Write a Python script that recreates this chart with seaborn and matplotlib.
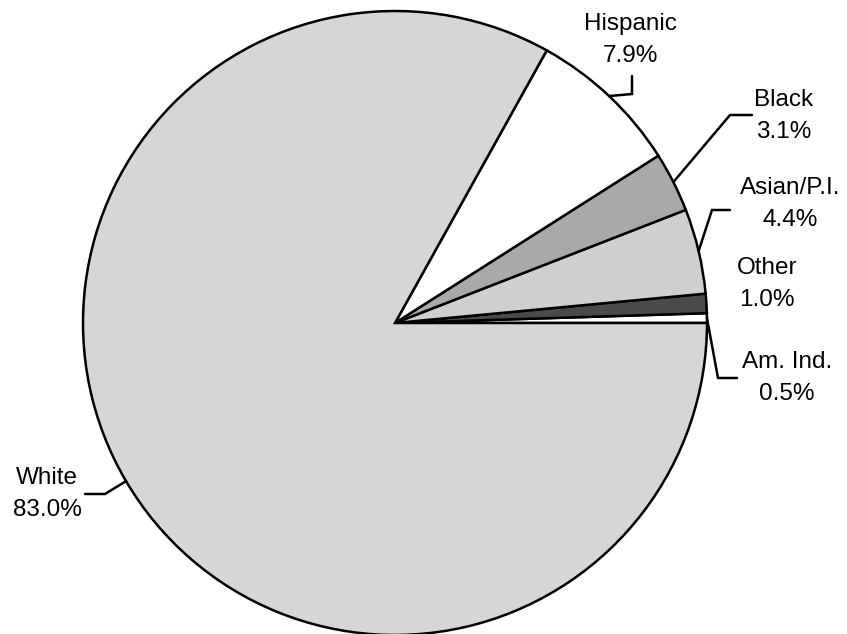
import numpy as np
import matplotlib
matplotlib.use("Agg")
import matplotlib.pyplot as plt
import seaborn as sns

categories = ["Am. Ind.", "Other", "Asian/P.I.", "Black", "Hispanic", "White"]
values = [0.5, 1.0, 4.4, 3.1, 7.9, 83.0]
value_labels = ["0.5%", "1.0%", "4.4%", "3.1%", "7.9%", "83.0%"]
colors = ["#ffffff", "#4a4a4a", "#cfcfcf", "#a9a9a9", "#ffffff", "#d6d6d6"]

sns.set_theme(style="white")
plt.rcParams["font.family"] = ["Liberation Sans", "DejaVu Sans"]

W, H = 847, 634
CX, CY, R = 395, 323, 312  # pixel geometry of the pie


def px(x, y):
    return (x - CX) / R, (CY - y) / R


fig = plt.figure(figsize=(W / 100, H / 100), dpi=100)
ax = fig.add_axes([0, 0, 1, 1])
wedges, _ = ax.pie(values, colors=colors, startangle=0, counterclock=True,
                   radius=1.0, center=(0, 0),
                   wedgeprops=dict(edgecolor="black", linewidth=1.8))
ax.set_xlim(-CX / R, (W - CX) / R)
ax.set_ylim(-(H - CY) / R, CY / R)
ax.set_aspect("auto")
ax.axis("off")

# label text centres and leader elbows (pixels)
label_pos = {
    "Am. Ind.": (787, 378),
    "Other": (767, 284),
    "Asian/P.I.": (790, 204),
    "Black": (784, 116),
    "Hispanic": (630, 40),
    "White": (47, 494),
}
leaders = {
    "Am. Ind.": [(718, 378), (737, 378)],
    "Asian/P.I.": [(712, 210), (730, 210)],
    "Black": [(730, 115), (752, 115)],
    "Hispanic": [(632, 94), (632, 76)],
    "White": [(105, 494), (85, 494)],
}

cum = np.cumsum([0] + values)
total = sum(values)
for i, (cat, lab) in enumerate(zip(categories, value_labels)):
    tx, ty = px(*label_pos[cat])
    ax.text(tx, ty, f"{cat}\n{lab}", ha="center", va="center", fontsize=17.5,
            linespacing=1.62, color="black")
    if cat in leaders:
        mid = np.deg2rad((cum[i] + values[i] / 2) / total * 360)
        pts = [(np.cos(mid), np.sin(mid))] + [px(*p) for p in leaders[cat]]
        xs, ys = zip(*pts)
        ax.plot(xs, ys, color="black", lw=1.8, solid_joinstyle="miter")

fig.savefig("out.png", dpi=100)
